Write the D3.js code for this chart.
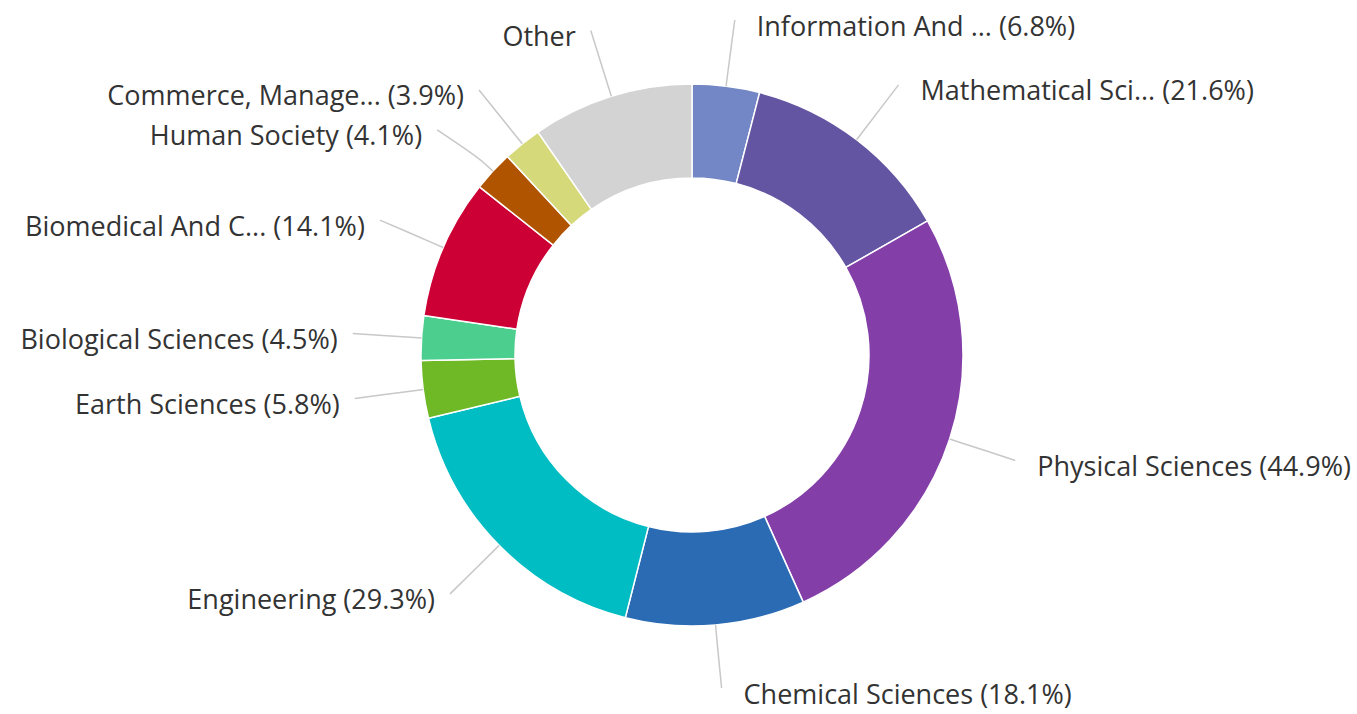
<!DOCTYPE html>
<html>
<head>
<meta charset="utf-8">
<script src="https://cdn.jsdelivr.net/npm/d3@7"></script>
<style>
  html, body { margin: 0; padding: 0; background: #ffffff; }
  svg { display: block; }
</style>
</head>
<body>
<svg id="chart" width="1357" height="714"></svg>
<script>
// ---- data ----
const categories = [
  "Information And ...",
  "Mathematical Sci...",
  "Physical Sciences",
  "Chemical Sciences",
  "Engineering",
  "Earth Sciences",
  "Biological Sciences",
  "Biomedical And C...",
  "Human Society",
  "Commerce, Manage...",
  "Other"
];
const values = [6.8, 21.6, 44.9, 18.1, 29.3, 5.8, 4.5, 14.1, 4.1, 3.9, 16.3];
const percentLabels = ["6.8%", "21.6%", "44.9%", "18.1%", "29.3%", "5.8%", "4.5%", "14.1%", "4.1%", "3.9%", null];
const colors = ["#7386c5", "#6455a3", "#843ea8", "#2a6bb3", "#00bcc3", "#6eb925",
                "#4ccf8e", "#cc0035", "#b05400", "#d6d97a", "#d3d3d3"];

// ---- layout ----
const W = 1357, H = 714;
const cx = 692, cy = 355;
const rOuter = 271, rInner = 177;
const labelR = 340;
const minGap = 40;

const svg = d3.select("#chart");
const g = svg.append("g");

const data = categories.map((c, i) => ({ name: c, value: values[i], pct: percentLabels[i], color: colors[i] }));

const pie = d3.pie().sort(null).value(d => d.value).startAngle(0).endAngle(2 * Math.PI);
const arcs = pie(data);
const arcGen = d3.arc().innerRadius(rInner).outerRadius(rOuter);

g.append("g").attr("transform", `translate(${cx},${cy})`)
  .selectAll("path").data(arcs).join("path")
  .attr("d", arcGen)
  .attr("fill", d => d.data.color)
  .attr("stroke", "#ffffff")
  .attr("stroke-width", 1.5)
  .attr("stroke-linejoin", "round");

// label positions
const labs = arcs.map(a => {
  const mid = (a.startAngle + a.endAngle) / 2;
  const s = Math.sin(mid), c = Math.cos(mid);
  const side = s >= 0 ? 1 : -1;
  return {
    a, mid, side,
    x: cx + s * labelR,
    y: cy - c * labelR,
    moved: false,
    t: [cx + s * rOuter, cy - c * rOuter],
    b: [cx + s * (rOuter + 11), cy - c * (rOuter + 11)]
  };
});
[1, -1].forEach(side => {
  const L = labs.filter(l => l.side === side).sort((p, q) => p.y - q.y);
  for (let i = 1; i < L.length; i++) {
    if (L[i].y - L[i - 1].y < minGap) { L[i].y = L[i - 1].y + minGap; L[i].moved = true; }
  }
  L.forEach(l => {
    if (l.y < 20) l.y = 20;
    if (l.y > H - 26) l.y = H - 26;
    if (l.moved) {
      const dy = l.y - cy;
      l.x = cx + side * Math.sqrt(Math.max(0, labelR * labelR - dy * dy));
    }
  });
});

// connectors
g.append("g").selectAll("path").data(labs).join("path")
  .attr("fill", "none")
  .attr("stroke", "#c8c8c8")
  .attr("stroke-width", 1.5)
  .attr("d", l => {
    const p = d3.path();
    p.moveTo(l.x, l.y);
    p.bezierCurveTo(l.x, l.y, 2 * l.b[0] - l.t[0], 2 * l.b[1] - l.t[1], l.b[0], l.b[1]);
    p.lineTo(l.t[0], l.t[1]);
    return p.toString();
  });

// labels
g.append("g").selectAll("text").data(labs).join("text")
  .attr("x", l => l.x + l.side * (l.side > 0 ? 22 : 15))
  .attr("y", l => l.y + 5)
  .attr("text-anchor", l => l.side > 0 ? "start" : "end")
  .attr("dominant-baseline", "central")
  .attr("font-family", "'Open Sans', 'Noto Sans', sans-serif")
  .attr("font-size", 27)
  .attr("fill", "#333333")
  .text(l => l.a.data.pct ? `${l.a.data.name} (${l.a.data.pct})` : l.a.data.name);
</script>
</body>
</html>
